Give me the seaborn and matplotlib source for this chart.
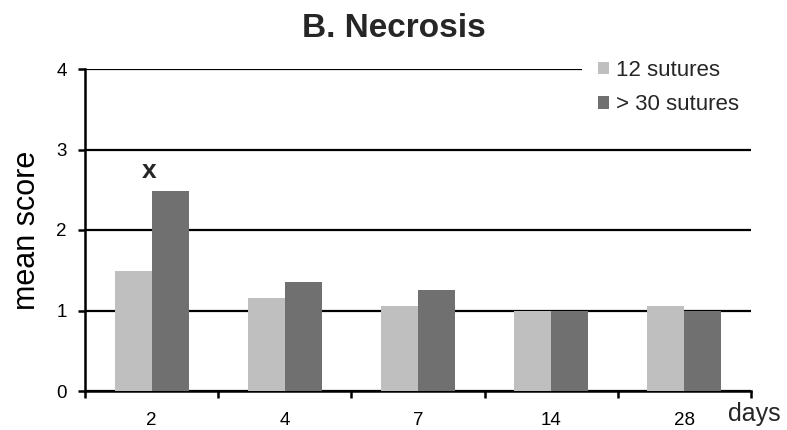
import matplotlib
matplotlib.use("Agg")
import matplotlib.pyplot as plt
import seaborn as sns
import pandas as pd
from matplotlib.ticker import FixedLocator

days = ["2", "4", "7", "14", "28"]
groups = ["12 sutures", "> 30 sutures"]
sutures_12 = [1.49, 1.16, 1.06, 1.00, 1.06]
sutures_30 = [2.48, 1.35, 1.26, 1.00, 1.00]
colors = ["#bfbfbf", "#707070"]
yticks = [0, 1, 2, 3, 4]

df = pd.DataFrame({
    "day": days * 2,
    "score": sutures_12 + sutures_30,
    "group": [groups[0]] * len(days) + [groups[1]] * len(days),
})

sns.set_style("white")
plt.rcParams["font.family"] = ["Liberation Sans", "DejaVu Sans"]

fig = plt.figure(figsize=(7.87, 4.30), dpi=100)
ax = fig.add_axes([85 / 787, 1 - 391 / 430, 666 / 787, 322 / 430])

sns.barplot(data=df, x="day", y="score", hue="group", order=days,
            hue_order=groups, palette=colors, width=0.556, gap=0,
            linewidth=0, saturation=1, ax=ax, zorder=3)

ax.set_xlim(-0.5, len(days) - 0.5)
ax.set_ylim(0, 4)
ax.set_yticks(yticks)
ax.yaxis.grid(True, color="black", linewidth=1.6, zorder=0)
ax.xaxis.grid(False)
ax.set_axisbelow(True)

for s in ["top", "right"]:
    ax.spines[s].set_visible(False)
for s in ["left", "bottom"]:
    ax.spines[s].set_color("black")
    ax.spines[s].set_linewidth(1.8)

ax.xaxis.set_minor_locator(FixedLocator([i - 0.5 for i in range(len(days) + 1)]))
ax.tick_params(axis="x", which="major", length=0, pad=15, labelsize=13.5, colors="black")
ax.tick_params(axis="x", which="minor", length=5, width=1.8, direction="out", color="black", bottom=True)
ax.tick_params(axis="y", which="major", length=5, width=1.8, direction="out", pad=8,
               labelsize=13.5, colors="black", left=True)

ax.set_xlabel("")
ax.set_ylabel("mean score", fontsize=22, color="black")
ax.yaxis.set_label_coords(-0.065, 0.5)

ax.text(-0.02, 2.64, "x", fontsize=19, fontweight="bold", ha="center", va="baseline")

fig.text(0.5, 1 - 37 / 430, "B. Necrosis", fontsize=24, fontweight="bold",
         ha="center", va="baseline")
fig.text(728 / 787, 1 - 421 / 430, "days", fontsize=18, ha="left", va="baseline")

handles, labels = ax.get_legend_handles_labels()
leg = ax.legend(handles, labels, loc="upper left",
                bbox_to_anchor=(582 / 787, 1 - 44 / 430),
                bbox_transform=fig.transFigure, fontsize=16,
                handlelength=0.5, handleheight=0.5, handletextpad=0.3,
                labelspacing=0.6, borderpad=0.72, borderaxespad=0,
                frameon=True, fancybox=False)
leg.get_frame().set_facecolor("white")
leg.get_frame().set_edgecolor("none")
leg.get_frame().set_alpha(1)
leg.set_zorder(5)

fig.savefig("out.png", dpi=100, facecolor="white")
